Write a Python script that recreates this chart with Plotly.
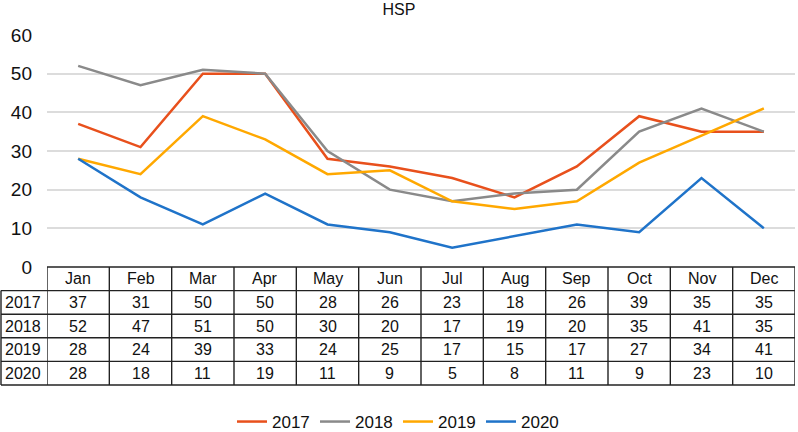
import plotly.graph_objects as go

months = ["Jan", "Feb", "Mar", "Apr", "May", "Jun", "Jul", "Aug", "Sep", "Oct", "Nov", "Dec"]
years = ["2017", "2018", "2019", "2020"]
v2017 = [37, 31, 50, 50, 28, 26, 23, 18, 26, 39, 35, 35]
v2018 = [52, 47, 51, 50, 30, 20, 17, 19, 20, 35, 41, 35]
v2019 = [28, 24, 39, 33, 24, 25, 17, 15, 17, 27, 34, 41]
v2020 = [28, 18, 11, 19, 11, 9, 5, 8, 11, 9, 23, 10]
series = [v2017, v2018, v2019, v2020]
colors = ["#E8501C", "#8A8A8A", "#FFA800", "#1F73C9"]
yticks = [0, 10, 20, 30, 40, 50, 60]

W, H = 798, 432
L, R, T, B = 47, 3, 35, 165
plot_h = H - T - B
plot_w = W - L - R
FONT = "Liberation Sans, Arial, Helvetica, sans-serif"

fig = go.Figure()
for name, vals, c in zip(years, series, colors):
    fig.add_trace(go.Scatter(x=months, y=vals, name=name, mode="lines",
                             line=dict(color=c, width=2.5)))

row_px = 23.6
def py(px_below):
    return -px_below / plot_h
def px_x(px):
    return (px - L) / plot_w

shapes = []
ann = []
line_style = dict(color="#222222", width=1.4)
n = len(months)
shapes.append(dict(type="line", xref="x", yref="paper", x0=-0.5, x1=n - 0.5,
                   y0=0, y1=0, line=line_style))
for r in range(1, len(years) + 2):
    shapes.append(dict(type="line", xref="paper", yref="paper", x0=px_x(1), x1=1,
                       y0=py(r * row_px), y1=py(r * row_px), line=line_style))
for i in range(n + 1):
    shapes.append(dict(type="line", xref="x", yref="paper", x0=i - 0.5, x1=i - 0.5,
                       y0=0, y1=py((len(years) + 1) * row_px), line=line_style))
shapes.append(dict(type="line", xref="paper", yref="paper", x0=px_x(1), x1=px_x(1),
                   y0=py(row_px), y1=py((len(years) + 1) * row_px), line=line_style))

tf = dict(family=FONT, size=16, color="#111111")
for i, m in enumerate(months):
    ann.append(dict(x=m, xref="x", y=py(0.5 * row_px), yref="paper", text=m,
                    showarrow=False, font=tf, xanchor="center", yanchor="middle"))
for r, (name, vals) in enumerate(zip(years, series)):
    yc = py((r + 1.5) * row_px)
    ann.append(dict(x=px_x(23), xref="paper", y=yc, yref="paper", text=name,
                    showarrow=False, font=tf, xanchor="center", yanchor="middle"))
    for m, v in zip(months, vals):
        ann.append(dict(x=m, xref="x", y=yc, yref="paper", text=str(v),
                        showarrow=False, font=tf, xanchor="center", yanchor="middle"))

fig.update_layout(
    width=W, height=H,
    margin=dict(l=L, r=R, t=T, b=B, pad=0, autoexpand=False),
    paper_bgcolor="white", plot_bgcolor="white",
    title=dict(text="HSP", x=0.5, xref="container", xanchor="center",
               y=1 - 4 / H, yanchor="top", yref="container",
               font=dict(family=FONT, size=16, color="#111111")),
    font=dict(family=FONT, color="#111111"),
    xaxis=dict(range=[-0.5, n - 0.5], showticklabels=False, showgrid=False,
               zeroline=False, showline=False, ticks="", automargin=False),
    yaxis=dict(range=[0, 60], tickvals=yticks, showgrid=True, gridcolor="#DCDCDC",
               gridwidth=1.5, zeroline=False, showline=False, ticks="", automargin=False,
               ticklabelstandoff=14, tickfont=dict(family=FONT, size=19, color="#111111")),
    legend=dict(orientation="h", x=px_x(398), xanchor="center",
                y=py(422 - 267), yanchor="middle",
                font=dict(family=FONT, size=17, color="#111111"),
                itemwidth=30, entrywidth=38, entrywidthmode="pixels",
                tracegroupgap=0, bgcolor="rgba(0,0,0,0)"),
    shapes=shapes, annotations=ann,
)

fig.write_html("out.html", config={"displayModeBar": False},
               post_script="document.body.style.margin='0';document.body.style.overflow='hidden';")
